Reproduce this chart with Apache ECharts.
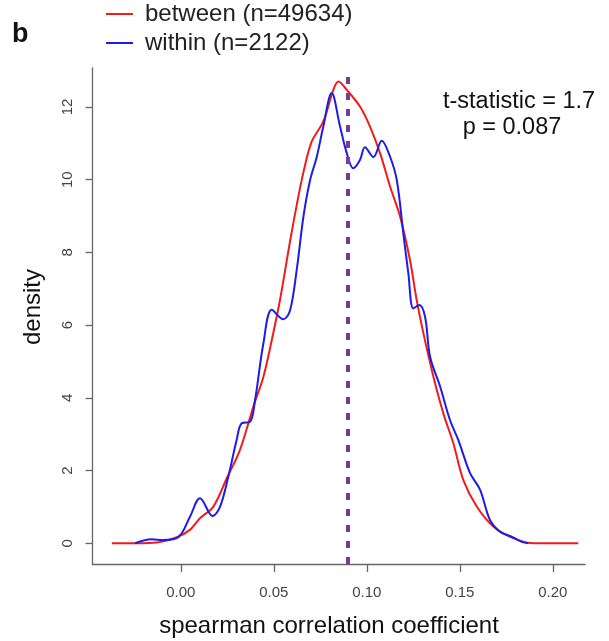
<!DOCTYPE html>
<html><head><meta charset="utf-8">
<script src="https://cdn.jsdelivr.net/npm/echarts@6/dist/echarts.min.js"></script>
<style>html,body{margin:0;padding:0;background:#fff}#c{width:609px;height:641px}</style>
</head><body><div id="c"></div>
<script>
// between (n=49634) density curve
const betweenX = [-0.0371, -0.0237, -0.0130, -0.0022, 0.0049, 0.0103, 0.0175, 0.0247, 0.0318, 0.0390, 0.0444, 0.0489, 0.0533, 0.0587, 0.0623, 0.0659, 0.0704, 0.0766, 0.0820, 0.0847, 0.0892, 0.0963, 0.1017, 0.1071, 0.1125, 0.1179, 0.1232, 0.1268, 0.1304, 0.1358, 0.1411, 0.1465, 0.1519, 0.1591, 0.1680, 0.1770, 0.1877, 0.2000, 0.2137];
const betweenY = [0, 0, 0.02, 0.17, 0.37, 0.69, 1.01, 1.79, 2.57, 3.76, 4.58, 5.59, 6.69, 8.3, 9.3, 10.2, 11.05, 11.6, 12.47, 12.7, 12.47, 12.01, 11.46, 10.73, 9.81, 8.98, 7.79, 6.69, 5.78, 4.58, 3.58, 2.75, 1.74, 1.01, 0.46, 0.18, 0.01, 0, 0];
// within (n=2122) density curve
const withinX = [-0.0246, -0.0157, -0.0094, -0.0013, 0.0049, 0.0103, 0.0171, 0.0211, 0.0255, 0.0300, 0.0327, 0.0372, 0.0399, 0.0444, 0.0489, 0.0551, 0.0587, 0.0623, 0.0659, 0.0695, 0.0731, 0.0766, 0.0811, 0.0856, 0.0892, 0.0927, 0.0963, 0.0990, 0.1035, 0.1080, 0.1125, 0.1161, 0.1196, 0.1223, 0.1250, 0.1282, 0.1313, 0.1340, 0.1394, 0.1447, 0.1492, 0.1555, 0.1609, 0.1662, 0.1716, 0.1779, 0.1833, 0.1868];
const withinY = [0, 0.11, 0.09, 0.17, 0.73, 1.24, 0.75, 1.01, 1.83, 2.84, 3.3, 3.34, 3.94, 5.5, 6.42, 6.16, 6.4, 7.52, 8.98, 9.99, 10.63, 11.46, 12.38, 11.46, 10.73, 10.31, 10.54, 10.89, 10.62, 11.07, 10.63, 9.99, 8.53, 7.43, 6.46, 6.55, 6.23, 5.13, 4.31, 3.39, 2.84, 1.93, 1.47, 0.64, 0.32, 0.18, 0.04, 0];
const meanValue = 0.089;
const xTicks = [0, 0.05, 0.10, 0.15, 0.20];
const yTicks = [0, 2, 4, 6, 8, 10, 12];
const seriesNames = ['between (n=49634)', 'within (n=2122)'];
const panelLabel = 'b';
const statLines = ['t-statistic = 1.7', 'p = 0.087'];
const xTitle = 'spearman correlation coefficient';
const yTitle = 'density';

const FONT = '"Liberation Sans", Arial, Helvetica, sans-serif';
const pairs = (xs, ys) => xs.map((x, i) => [x, ys[i]]);

const chart = echarts.init(document.getElementById('c'), null, {renderer: 'canvas'});
chart.setOption({
  animation: false,
  backgroundColor: '#fff',
  textStyle: {fontFamily: FONT},
  grid: {left: 92.5, right: 24, top: 68, bottom: 77},
  legend: {
    data: seriesNames, orient: 'vertical', left: 106, top: 2, padding: 0,
    icon: 'rect', itemWidth: 27, itemHeight: 2, itemGap: 5, selectedMode: false,
    textStyle: {fontSize: 24, color: '#222', fontFamily: FONT, padding: [0, 0, 0, 7]}
  },
  xAxis: {
    type: 'value', min: -0.0475, max: 0.2173,
    axisLine: {onZero: false, lineStyle: {color: '#666', width: 1.3}},
    axisTick: {customValues: xTicks, length: 8, lineStyle: {color: '#666', width: 1.3}},
    axisLabel: {customValues: xTicks, formatter: v => v.toFixed(2), fontSize: 15, color: '#444', margin: 21, fontFamily: FONT},
    splitLine: {show: false}
  },
  yAxis: {
    type: 'value', min: -0.569, max: 13.07,
    axisLine: {show: true, onZero: false, lineStyle: {color: '#666', width: 1.3}},
    axisTick: {show: true, customValues: yTicks, length: 7, lineStyle: {color: '#666', width: 1.3}},
    axisLabel: {customValues: yTicks, rotate: 90, fontSize: 15, color: '#444', margin: 17, fontFamily: FONT},
    splitLine: {show: false}
  },
  series: [
    {
      name: seriesNames[0], type: 'line', data: pairs(betweenX, betweenY),
      smooth: 0.35, showSymbol: false, symbol: 'none', color: '#f21b1b',
      lineStyle: {color: '#f21b1b', width: 2}, z: 2,
      markLine: {
        silent: true, symbol: 'none', label: {show: false},
        lineStyle: {color: '#7b3a98', width: 4, type: [7, 9]},
        data: [{xAxis: meanValue}]
      }
    },
    {
      name: seriesNames[1], type: 'line', data: pairs(withinX, withinY),
      smooth: 0.35, showSymbol: false, symbol: 'none', color: '#1c1ce6',
      lineStyle: {color: '#1c1ce6', width: 2}, z: 3
    }
  ],
  graphic: [
    {type: 'text', left: 12, top: 21, style: {text: panelLabel, font: 'bold 27px ' + FONT, fill: '#111'}},
    {type: 'text', x: 519, y: 102, style: {text: statLines[0], font: '23.5px ' + FONT, fill: '#111', align: 'center', verticalAlign: 'middle'}},
    {type: 'text', x: 512, y: 128, style: {text: statLines[1], font: '23.5px ' + FONT, fill: '#111', align: 'center', verticalAlign: 'middle'}},
    {type: 'text', x: 329, y: 626, style: {text: xTitle, font: '24px ' + FONT, fill: '#111', align: 'center', verticalAlign: 'middle'}},
    {type: 'text', x: 33, y: 307, rotation: Math.PI / 2, style: {text: yTitle, font: '24px ' + FONT, fill: '#111', align: 'center', verticalAlign: 'middle'}}
  ]
});
</script>
</body></html>
